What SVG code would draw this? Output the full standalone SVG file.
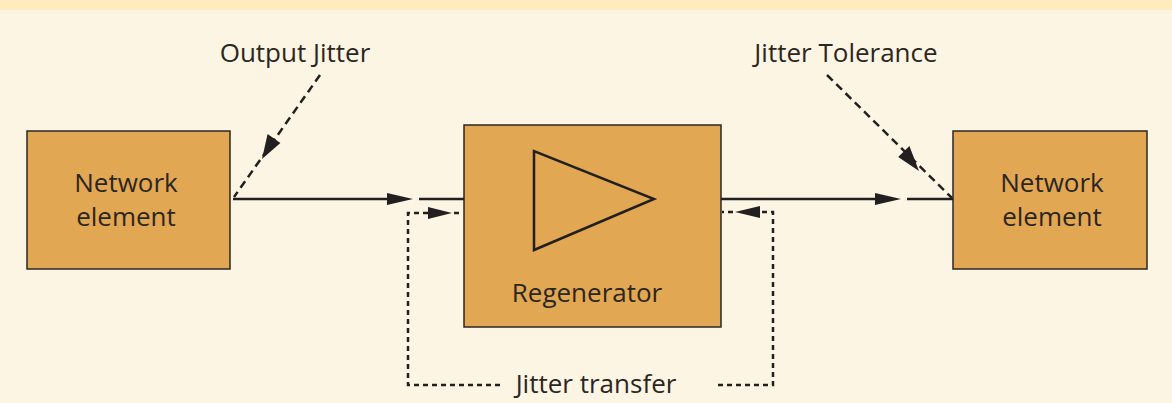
<svg xmlns="http://www.w3.org/2000/svg" width="1172" height="403" viewBox="0 0 1172 403">
<defs>
<style>
.bg{fill:#FDF5E4}
.band{fill:#FFEBBB}
.box{fill:#E2A753;stroke:#2b2622;stroke-width:1.5}
.txt{font-family:"Open Sans","Noto Sans",sans-serif;font-size:26px;fill:#2b2622;text-anchor:middle}
.solid{stroke:#231f20;stroke-width:2.5;fill:none}
.dash{stroke:#231f20;stroke-width:2.5;fill:none;stroke-dasharray:8 5}
.dot{stroke:#231f20;stroke-width:2.5;fill:none;stroke-dasharray:5 4}
.head{fill:#231f20}
</style>
</defs>
<rect class="bg" x="0" y="0" width="1172" height="403"/>
<rect class="band" x="0" y="0" width="1172" height="10"/>
<g id="ne-left">
<rect class="box" x="27" y="131" width="203" height="138"/>
<text class="txt" x="126" y="192">Network</text>
<text class="txt" x="126" y="226">element</text>
</g>
<g id="regenerator">
<rect class="box" x="464" y="125" width="257" height="202"/>
<polygon points="534,151 534,250 654,199" fill="none" stroke="#231f20" stroke-width="2.5"/>
<text class="txt" x="587" y="302">Regenerator</text>
</g>
<g id="ne-right">
<rect class="box" x="953" y="131" width="194" height="138"/>
<text class="txt" x="1052" y="192">Network</text>
<text class="txt" x="1052" y="226">element</text>
</g>
<g id="labels">
<text class="txt" x="295" y="62">Output Jitter</text>
<text class="txt" x="846" y="62">Jitter Tolerance</text>
<text class="txt" x="596" y="393">Jitter transfer</text>
</g>
<g id="connectors">
<line class="solid" x1="233" y1="199" x2="390" y2="199"/>
<polygon class="head" points="387,193 413,199 387,205"/>
<line class="solid" x1="419" y1="199" x2="464" y2="199"/>
<line class="solid" x1="721" y1="199" x2="878" y2="199"/>
<polygon class="head" points="875,193 901,199 875,205"/>
<line class="solid" x1="907" y1="199" x2="953" y2="199"/>
<line class="dash" x1="320" y1="75" x2="234" y2="197"/>
<polygon class="head" points="262,159 267.6,134 280.4,143"/>
<line class="dash" x1="827" y1="75" x2="952" y2="198"/>
<polygon class="head" points="919,171 898.2,157 909.4,146"/>
<polyline class="dot" points="500,385 408,385 408,213 430,213"/>
<polygon class="head" points="428,207 452,213 428,219"/>
<line class="dot" x1="454" y1="213" x2="463" y2="213"/>
<polyline class="dot" points="718,385 773,385 773,212 758,212"/>
<polygon class="head" points="760,206 735,212 760,218"/>
<line class="dot" x1="733" y1="212" x2="722" y2="212"/>
</g>
</svg>
